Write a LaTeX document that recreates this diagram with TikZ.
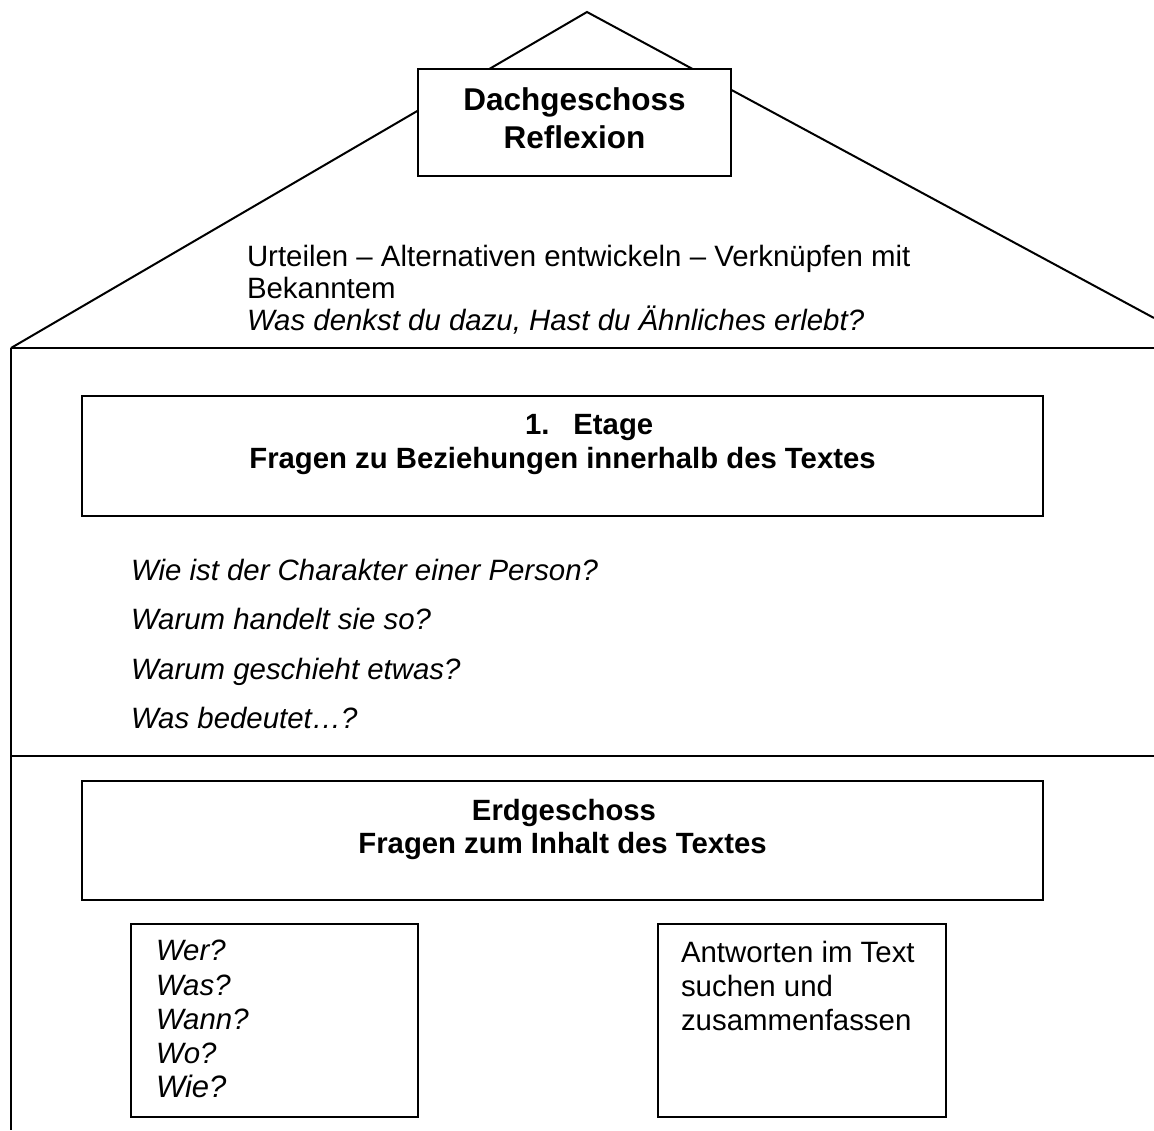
\documentclass[tikz,border=0pt]{standalone}
\usepackage{fontspec}
\setmainfont{Liberation Sans}
\begin{document}
\begin{tikzpicture}[x=1pt,y=-1pt,line width=2pt,
  box/.style={draw,fill=white,line width=2pt,inner sep=0pt,outer sep=0pt},
  txt/.style={anchor=base west,inner sep=0pt,font=\fontsize{29.4}{34}\selectfont},
  itxt/.style={txt,font=\fontsize{29.4}{34}\selectfont\itshape},
  head/.style={anchor=base,inner sep=0pt,font=\fontsize{29.3}{34}\selectfont\bfseries},
  bighead/.style={anchor=base,inner sep=0pt,font=\fontsize{31.5}{38}\selectfont\bfseries}]
\useasboundingbox (0,0) rectangle (1154,1130);
% house outline
\coordinate (apex) at (587,12);
\coordinate (eaveL) at (11,348);
\coordinate (eaveR) at (1154,318);
\coordinate (ceilR) at (1154,348);
\coordinate (floorL) at (11,756);
\coordinate (floorR) at (1154,756);
\coordinate (groundL) at (11,1130);
\draw (eaveL) -- (apex) -- (eaveR);
\draw (eaveL) -- (ceilR);
\draw (eaveL) -- (groundL);
\draw (floorL) -- (floorR);
% attic
\node[box,minimum width=313pt,minimum height=107pt] (dach) at (574.5,122.5) {};
\node[bighead] (dach1) at (574.5,110) {Dachgeschoss};
\node[bighead] (dach2) at (574.5,148) {Reflexion};
\node[txt] (r1) at (246,266) {Urteilen – Alternativen entwickeln – Verknüpfen mit};
\node[txt] (r2) at (246,298) {Bekanntem};
\node[itxt] (r3) at (246,330) {Was denkst du dazu, Hast du Ähnliches erlebt?};
% first floor
\node[box,minimum width=961pt,minimum height=120pt] (etage) at (562.5,456) {};
\node[txt,font=\fontsize{29.3}{34}\selectfont\bfseries] (e1) at (524,434) {1.\hspace{24pt}Etage};
\node[head] (e2) at (562.5,468) {Fragen zu Beziehungen innerhalb des Textes};
\node[itxt] (q1) at (130,580) {Wie ist der Charakter einer Person?};
\node[itxt] (q2) at (130,629) {Warum handelt sie so?};
\node[itxt] (q3) at (130,679) {Warum geschieht etwas?};
\node[itxt] (q4) at (130,728) {Was bedeutet…?};
% ground floor
\node[box,minimum width=961pt,minimum height=119pt] (erd) at (562.5,840.5) {};
\node[head] (g1) at (564,820) {Erdgeschoss};
\node[head] (g2) at (562.5,853) {Fragen zum Inhalt des Textes};
\node[box,minimum width=287pt,minimum height=193pt] (wbox) at (274.5,1020.5) {};
\node[itxt] (w1) at (155,960) {Wer?};
\node[itxt] (w2) at (155,995) {Was?};
\node[itxt] (w3) at (155,1029) {Wann?};
\node[itxt] (w4) at (155,1063) {Wo?};
\node[itxt,font=\fontsize{31}{34}\selectfont\itshape] (w5) at (155,1097) {Wie?};
\node[box,minimum width=288pt,minimum height=193pt] (abox) at (802,1020.5) {};
\node[txt] (a1) at (680,962) {Antworten im Text};
\node[txt] (a2) at (680,996) {suchen und};
\node[txt] (a3) at (680,1030) {zusammenfassen};
\end{tikzpicture}
\end{document}
